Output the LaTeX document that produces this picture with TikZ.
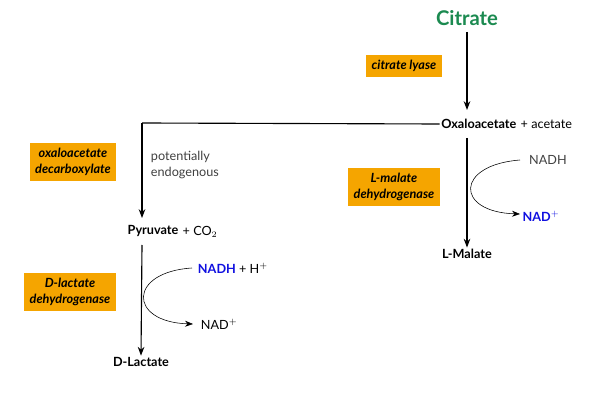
\documentclass[tikz,border=0pt]{standalone}
\usepackage{fontspec}
\setmainfont{Lato}
\usetikzlibrary{arrows.meta}
\definecolor{enzorange}{HTML}{F5A500}
\definecolor{citgreen}{HTML}{1B8A50}
\definecolor{cofblue}{HTML}{1010E0}
\tikzstyle{enzyme} = [rectangle, fill=enzorange, text centered, align=center, font=\bfseries\itshape\small, inner sep=4pt]
\tikzstyle{metab} = [draw=none, font=\bfseries\small, inner sep=1pt]
\tikzstyle{connector} = [draw, thick, -{Stealth[length=2.2mm]}]
\tikzstyle{cofarrow} = [draw, -{Stealth[length=2mm]}]

\begin{document}
\begin{tikzpicture}[x=0.025cm, y=-0.025cm]
\useasboundingbox (0,0) rectangle (600,400);

%---------------------------------------------
%metabolitos
%---------------------------------------------
\node [draw=none, font=\bfseries\Large, text=citgreen] at (467,18) (citrato) {Citrate};
\node [metab, anchor=east] at (518,124) (oxalo) {Oxaloacetate};
\node [draw=none, font=\small, anchor=west, inner sep=1pt] at (519,124) (acetato) {+ acetate};
\node [metab, anchor=east] at (180,231) (piruvato) {Pyruvate};
\node [draw=none, font=\small, anchor=west, inner sep=1pt] at (181,232) (co2) {+ CO$_2$};
\node [metab] at (467,254) (malato) {L-Malate};
\node [metab] at (141,362) (lactato) {D-Lactate};

%---------------------------------------------
%enzimas
%---------------------------------------------
\node [enzyme] at (404,66) (liase) {citrate lyase};
\node [enzyme] at (73,162) (descarb) {oxaloacetate\\decarboxylate};
\node [enzyme] at (394,187) (mdh) {L-malate\\dehydrogenase};
\node [enzyme] at (70,292) (ldh) {D-lactate\\dehydrogenase};

%---------------------------------------------
%cofatores e legendas
%---------------------------------------------
\node [draw=none, font=\small, align=left, anchor=west, text=black!75] at (146,165) (endog) {potentially\\endogenous};
\node [draw=none, font=\small, text=black!75] at (548,160) (nadh) {NADH};
\node [draw=none, font=\bfseries\small, text=cofblue] at (541,216) (nad) {NAD$^{+}$};
\node [draw=none, font=\small, anchor=west] at (193,268) (nadh2) {\textbf{\textcolor{cofblue}{NADH}} + H$^{+}$};
\node [draw=none, font=\small, anchor=west] at (196,324) (nad2) {NAD$^{+}$};
\coordinate (canto) at (142,123);

%---------------------------------------------
%setas
%---------------------------------------------
\path [connector] (467,32) -- (467,110);
\path [connector] (467,138) -- (malato.north);
\draw [thick] (oxalo.west) -- (canto);
\path [connector] (canto) -- (142,218);
\path [connector] (142,245) -- (lactato.north);
\path [cofarrow] (520,160) .. controls (455,165) and (455,212) .. (520,214);
\path [cofarrow] (192,268) .. controls (128,272) and (128,322) .. (193,324);
\end{tikzpicture}
\end{document}
